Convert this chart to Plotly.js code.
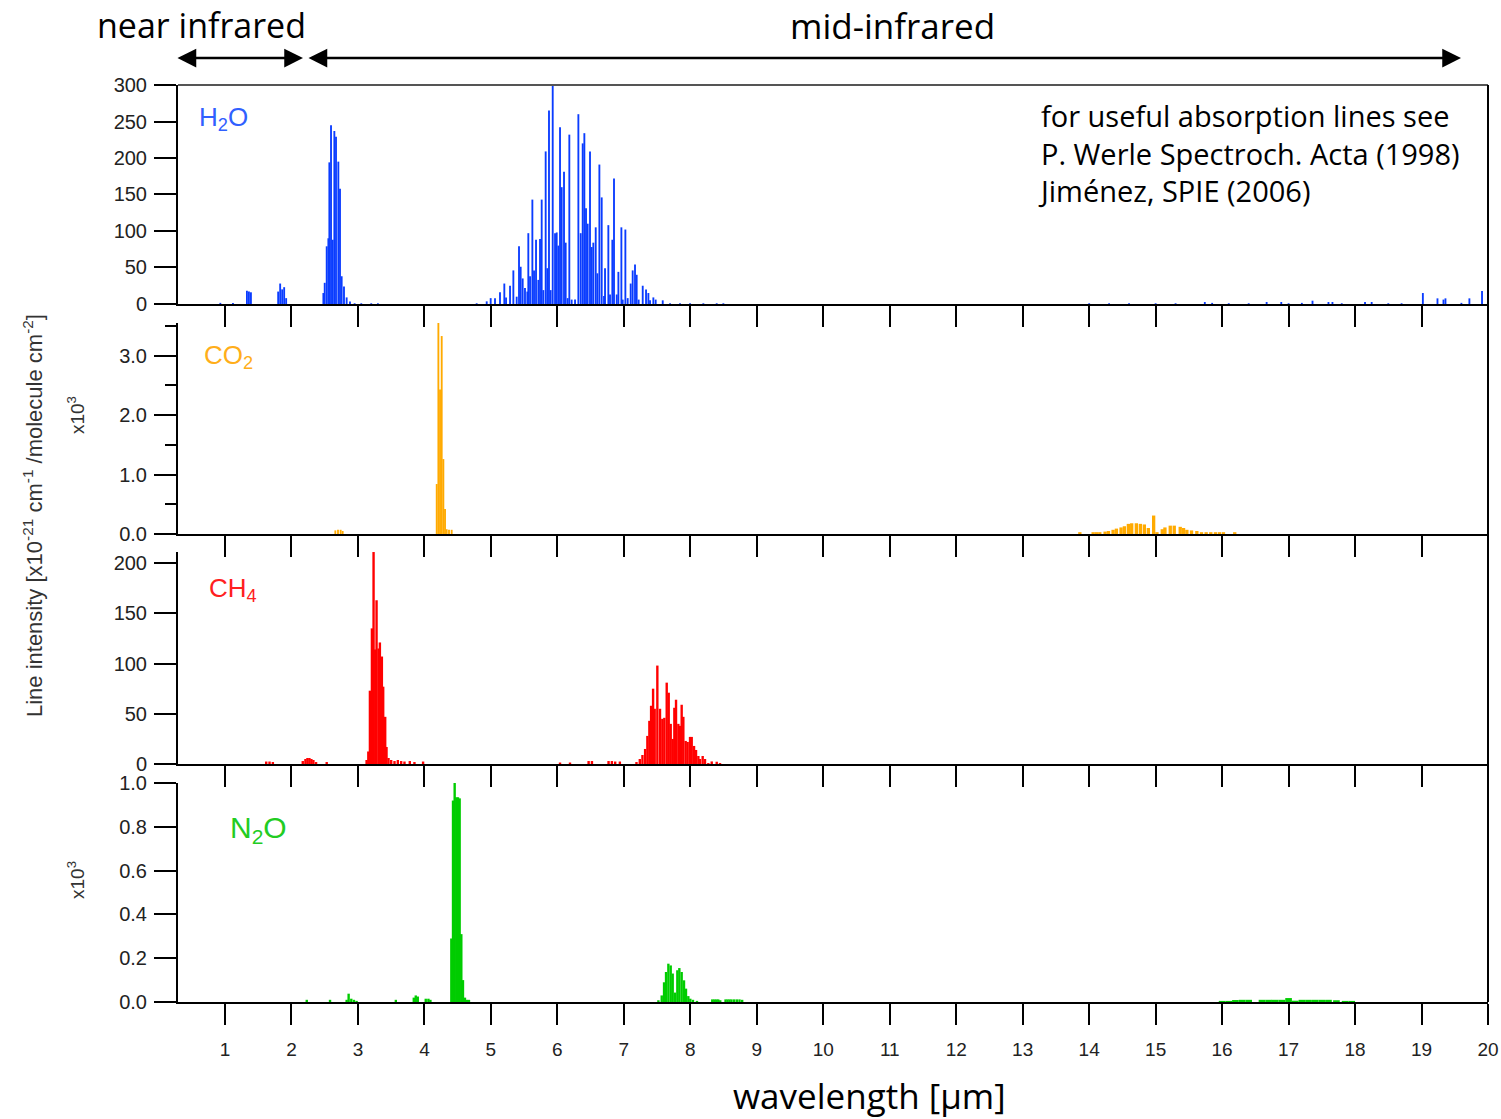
<!DOCTYPE html>
<html>
<head>
<meta charset="utf-8">
<script src="https://cdn.plot.ly/plotly-3.0.1.min.js"></script>
<style>html,body{margin:0;padding:0;background:#fff;}#chart{width:1501px;height:1119px;}</style>
</head>
<body>
<div id="chart"></div>
<script>
// ---------- data (wavelength in µm, line intensity in axis units) ----------
const h2o_wl = [0.93,1.12,1.33,1.36,1.39,1.80,1.83,1.86,1.89,1.92,
  2.48,2.50,2.53,2.555,2.57,2.595,2.62,2.645,2.67,2.705,2.73,2.755,2.79,2.83,2.88,2.95,3.05,3.2,3.3,
  4.786,4.937,4.997,5.062,5.137,5.202,5.228,5.288,5.338,5.388,5.423,5.448,5.478,5.513,5.548,5.563,5.589,5.624,5.649,5.679,5.714,5.739,5.764,5.789,5.824,5.849,5.874,5.899,5.930,5.965,5.990,6.015,6.040,6.065,6.100,6.125,6.155,6.180,6.215,6.266,6.316,6.351,6.381,6.406,6.431,6.456,6.491,6.516,6.541,6.577,6.602,6.632,6.667,6.702,6.717,6.767,6.792,6.827,6.852,6.893,6.918,6.963,6.983,7.023,7.058,7.103,7.133,7.168,7.193,7.223,7.284,7.334,7.369,7.394,7.444,7.479,7.585,7.695,7.845,7.996,8.196,8.397,8.497,
  14.0,14.3,14.6,15.0,15.3,15.74,15.85,16.1,16.4,16.67,16.89,17.0,17.2,17.36,17.6,17.66,17.8,18.15,18.25,18.5,18.7,19.02,19.24,19.33,19.36,19.6,19.72,19.91];
const h2o_int = [1.5,1.5,18,17,16,17,28,20,23,8,
  15,29,79,90,194,245,88,237,229,195,158,38,24,9,3.5,1,1,1,1,
  1,3.6,8,8,16,28,9,25,46,10,79,51,35,22,17,97,38,143,46,88,33,89,143,19,209,49,265,19,300,97,98,80,242,160,181,84,8,232,6,6,260,97,220,234,131,110,209,78,84,105,42,191,146,11,49,108,13,88,172,13,44,105,6,102,8,28,46,54,40,6,25,20,15,5,9,6,5,1,1,1,1,1,1,
  1,1,1,1,1,2.7,1.5,1,1,2.7,2.7,1,1.5,4.5,2.7,2.7,1,2.7,2.7,1,1,15,7.7,6,7.7,1.5,7.7,17.7];

const co2_wl = [2.66,2.70,2.74,2.77,4.185,4.21,4.235,4.26,4.285,4.31,4.335,4.37,4.41];
const co2_int = [0.06,0.07,0.07,0.05,0.84,3.55,2.43,3.33,1.26,0.42,0.08,0.07,0.07];
const co2_15um_wl = [13.86,14.06,14.11,14.16,14.24,14.29,14.36,14.41,14.48,14.53,14.59,14.64,14.71,14.77,14.83,14.89,14.97,15.02,15.10,15.14,15.22,15.28,15.37,15.42,15.47,15.54,15.62,15.69,15.76,15.83,15.90,15.96,16.02,16.19];
const co2_15um_int = [0.03,0.03,0.03,0.03,0.04,0.05,0.07,0.09,0.11,0.13,0.17,0.18,0.18,0.17,0.16,0.10,0.31,0.03,0.08,0.11,0.14,0.14,0.12,0.10,0.07,0.06,0.05,0.03,0.03,0.03,0.03,0.03,0.03,0.03];

const ch4_wl = [1.62,1.67,1.72,2.17,2.21,2.24,2.27,2.30,2.33,2.37,2.53,
  3.13,3.156,3.18,3.21,3.235,3.26,3.28,3.31,3.33,3.36,3.38,3.41,3.43,3.46,3.50,3.55,3.60,3.65,3.70,3.78,3.85,3.98,
  6.04,6.19,6.47,6.52,6.77,6.82,6.87,6.94,7.19,7.24,7.28,7.32,7.354,7.384,7.41,7.44,7.464,7.504,7.544,7.579,7.609,7.645,7.675,7.705,7.735,7.76,7.785,7.82,7.845,7.87,7.895,7.93,7.96,7.996,8.021,8.056,8.086,8.121,8.146,8.186,8.221,8.271,8.322,8.397,8.447];
const ch4_int = [2.5,2.5,2,3,5,6,6,5,4,2,2,
  4,12.5,73,135,211,114,163,115,121,107,77,47,17,6,4,3,4,3,2.5,3,2,2.5,
  1.5,1.5,3,3,3,3,2.5,2.5,2,5,9,15,28,43,58,75,55,98,55,45,46,81,71,40,25,56,64,40,38,59,47,23,22,27,27,18,14,8,5,8,5,1,2.6,2.3,1];

const n2o_wl = [2.23,2.58,2.83,2.86,2.90,2.94,2.98,3.57,3.84,3.87,3.90,4.02,4.06,4.09,
  4.405,4.43,4.455,4.48,4.505,4.53,4.555,4.58,4.61,4.64,4.67,
  7.52,7.57,7.605,7.635,7.67,7.705,7.735,7.77,7.805,7.835,7.87,7.905,7.935,7.97,8.0,8.04,8.1,
  8.33,8.36,8.39,8.42,8.45,8.53,8.56,8.59,8.62,8.66,8.70,8.74,8.78];
const n2o_int = [0.01,0.01,0.01,0.038,0.015,0.01,0.005,0.01,0.02,0.03,0.025,0.015,0.015,0.01,
  0.29,0.92,1.0,0.935,0.935,0.93,0.31,0.10,0.02,0.01,0.01,
  0.008,0.03,0.09,0.137,0.175,0.167,0.13,0.043,0.145,0.155,0.137,0.099,0.061,0.027,0.015,0.01,0.005,
  0.012,0.012,0.012,0.012,0.008,0.012,0.012,0.012,0.012,0.012,0.012,0.012,0.01];
const n2o_far_wl = [16.0,16.1,16.2,16.3,16.4,16.6,16.7,16.8,16.9,17.0,17.1,17.2,17.3,17.4,17.5,17.6,17.72,17.85,17.95];
const n2o_far_int = [0.005,0.005,0.009,0.01,0.01,0.01,0.01,0.01,0.01,0.018,0.006,0.01,0.01,0.01,0.01,0.01,0.008,0.005,0.005];

const x_ticks = [1,2,3,4,5,6,7,8,9,10,11,12,13,14,15,16,17,18,19,20];
const h2o_ticks = [0,50,100,150,200,250,300];
const co2_ticks = [0,1,2,3];
const co2_ticklabels = ['0.0','1.0','2.0','3.0'];
const co2_minor = [0.5,1.5,2.5,3.5];
const ch4_ticks = [0,50,100,150,200];
const n2o_ticks = [0,0.2,0.4,0.6,0.8,1.0];
const n2o_ticklabels = ['0.0','0.2','0.4','0.6','0.8','1.0'];

// ---------- traces ----------
function sticks(x, y, color, xa, ya, w) {
  return {type:'bar', x:x, y:y, xaxis:xa, yaxis:ya, width:w,
    marker:{color:color, line:{width:0}}, hoverinfo:'x+y'};
}
const BLUE='#0a3cff', ORANGE='#ffaa00', RED='#ff0000', GREEN='#00cc00';
const data = [
  sticks(h2o_wl, h2o_int, BLUE, 'x', 'y', 0.028),
  sticks(co2_wl, co2_int, ORANGE, 'x2', 'y2', 0.028),
  sticks(co2_15um_wl, co2_15um_int, ORANGE, 'x2', 'y2', 0.05),
  sticks(ch4_wl, ch4_int, RED, 'x3', 'y3', 0.036),
  sticks(n2o_wl, n2o_int, GREEN, 'x4', 'y4', 0.036),
  sticks(n2o_far_wl, n2o_far_int, GREEN, 'x4', 'y4', 0.1)
];

// ---------- layout ----------
const tickFont = {family:'Liberation Sans, Arial, sans-serif', size:20, color:'#222'};
function xax(anchor, labels) {
  return {anchor:anchor, range:[0.293,20], showline:true, linecolor:'#000', linewidth:2,
    ticks:'outside', ticklen:21, tickwidth:2, tickcolor:'#000', tickmode:'array',
    tickvals:x_ticks, ticktext:x_ticks.map(String), showticklabels:labels, ticklabelstandoff:8,
    tickfont:{family:'Liberation Sans, Arial, sans-serif', size:19, color:'#222'},
    showgrid:false, zeroline:false, fixedrange:true};
}
function yax(anchor, domain, range, vals, text) {
  return {anchor:anchor, domain:domain, range:range, showline:true, linecolor:'#000', linewidth:2,
    ticks:'outside', ticklen:22, tickwidth:2, tickcolor:'#000', tickmode:'array', ticklabelstandoff:3,
    tickvals:vals, ticktext:text, tickfont:tickFont, showgrid:false, zeroline:false, fixedrange:true};
}
const y2 = yax('x2',[0.5104,0.7405],[0,3.55],co2_ticks,co2_ticklabels);
y2.minor = {tickmode:'array', tickvals:co2_minor, ticks:'outside', ticklen:11, tickwidth:2, tickcolor:'#000', showgrid:false};

const txtFont = 'Open Sans, Noto Sans, sans-serif';
const layout = {
  width:1501, height:1119,
  margin:{l:178, r:13, t:85, b:117},
  paper_bgcolor:'#fff', plot_bgcolor:'rgba(0,0,0,0)',
  showlegend:false,
  xaxis: xax('y', false),
  xaxis2: xax('y2', false),
  xaxis3: xax('y3', false),
  xaxis4: xax('y4', true),
  yaxis: yax('x',[0.7612,1],[0,300],h2o_ticks,h2o_ticks.map(String)),
  yaxis2: y2,
  yaxis3: yax('x3',[0.2595,0.4907],[0,211],ch4_ticks,ch4_ticks.map(String)),
  yaxis4: yax('x4',[0,0.2388],[0,1.0],n2o_ticks,n2o_ticklabels),
  shapes:[
    {type:'line', xref:'paper', yref:'paper', x0:0, x1:1, y0:1, y1:1, line:{color:'#555', width:2}},
    {type:'line', xref:'paper', yref:'paper', x0:1, x1:1, y0:0, y1:1, line:{color:'#000', width:2}}
  ],
  annotations:[
    {xref:'paper', yref:'paper', x:0.0176, y:1.0654, text:'near infrared', showarrow:false,
      xanchor:'center', yanchor:'middle', font:{family:txtFont, size:34, color:'#000'}},
    {xref:'paper', yref:'paper', x:0.5458, y:1.0654, text:'mid-infrared', showarrow:false,
      xanchor:'center', yanchor:'middle', font:{family:txtFont, size:35, color:'#000'}},
    {xref:'paper', yref:'paper', x:0.0954, y:1.0294, ax:-127, ay:0, axref:'pixel', ayref:'pixel', text:'',
      showarrow:true, arrowside:'end+start', arrowhead:2, startarrowhead:2, arrowsize:1.5, startarrowsize:1.5, arrowwidth:2.5, arrowcolor:'#000'},
    {xref:'paper', yref:'paper', x:0.9794, y:1.0294, ax:-1154, ay:0, axref:'pixel', ayref:'pixel', text:'',
      showarrow:true, arrowside:'end+start', arrowhead:2, startarrowhead:2, arrowsize:1.5, startarrowsize:1.5, arrowwidth:2.5, arrowcolor:'#000'},
    {xref:'paper', yref:'paper', x:0.6550, y:0.9900, xanchor:'left', yanchor:'top', align:'left', showarrow:false,
      text:'for useful absorption lines see<br>P. Werle Spectroch. Acta (1998)<br>Jiménez, SPIE (2006)',
      font:{family:txtFont, size:29, color:'#000'}},
    {xref:'paper', yref:'paper', x:0.528, y:-0.1300, xanchor:'center', yanchor:'bottom', showarrow:false,
      text:'wavelength [μm]', font:{family:txtFont, size:35, color:'#000'}},
    {xref:'paper', yref:'paper', x:-0.1107, y:0.531, textangle:-90, xanchor:'center', yanchor:'middle', showarrow:false,
      text:'Line intensity [x10<sup>-21</sup> cm<sup>-1</sup> /molecule cm<sup>-2</sup>]',
      font:{family:'Liberation Sans, Arial, sans-serif', size:22, color:'#333'}},
    {xref:'paper', yref:'paper', x:-0.0779, y:0.640, textangle:-90, xanchor:'center', yanchor:'middle', showarrow:false,
      text:'x10<sup>3</sup>', font:{family:'Liberation Sans, Arial, sans-serif', size:19, color:'#333'}},
    {xref:'paper', yref:'paper', x:-0.0779, y:0.133, textangle:-90, xanchor:'center', yanchor:'middle', showarrow:false,
      text:'x10<sup>3</sup>', font:{family:'Liberation Sans, Arial, sans-serif', size:19, color:'#333'}},
    {xref:'paper', yref:'paper', x:0.0145, y:0.964, xanchor:'left', yanchor:'middle', showarrow:false,
      text:'H<sub>2</sub>O', font:{family:'Liberation Sans, Arial, sans-serif', size:26, color:'#3060ff'}},
    {xref:'paper', yref:'paper', x:0.0183, y:0.7034, xanchor:'left', yanchor:'middle', showarrow:false,
      text:'CO<sub>2</sub>', font:{family:'Liberation Sans, Arial, sans-serif', size:26, color:'#ffae1a'}},
    {xref:'paper', yref:'paper', x:0.0221, y:0.450, xanchor:'left', yanchor:'middle', showarrow:false,
      text:'CH<sub>4</sub>', font:{family:'Liberation Sans, Arial, sans-serif', size:26, color:'#ff2020'}},
    {xref:'paper', yref:'paper', x:0.0382, y:0.1876, xanchor:'left', yanchor:'middle', showarrow:false,
      text:'N<sub>2</sub>O', font:{family:'Liberation Sans, Arial, sans-serif', size:30, color:'#22cc22'}}
  ]
};
Plotly.newPlot('chart', data, layout, {displayModeBar:false, staticPlot:true});
</script>
</body>
</html>
